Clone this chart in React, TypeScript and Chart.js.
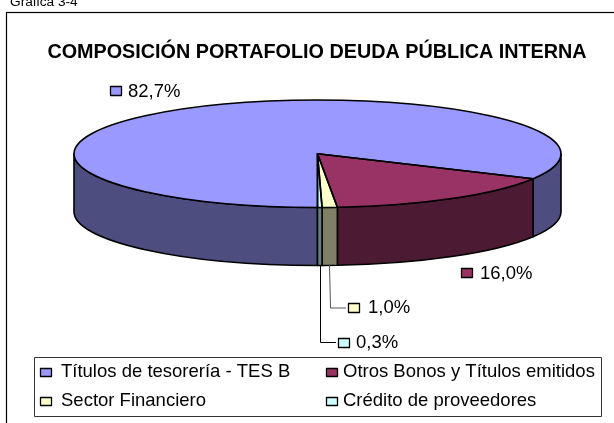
import React, { useEffect, useRef } from "react";
import { Chart, registerables } from "chart.js";

Chart.register(...registerables);

const categories = ["Títulos de tesorería - TES B", "Otros Bonos y Títulos emitidos", "Sector Financiero", "Crédito de proveedores"];
const values = [82.7, 16.0, 1.0, 0.3];
const valueLabels = ["82,7%", "16,0%", "1,0%", "0,3%"];
const topColors = ["#9999FF", "#993366", "#FFFFCC", "#CCFFFF"];
const wallColors = ["#4D4D80", "#4D1A33", "#808066", "#668080"];
const titleText = "COMPOSICIÓN PORTAFOLIO DEUDA PÚBLICA INTERNA";
const captionText = "Gráfica 3-4";

const FONT = '"Liberation Sans", Arial, sans-serif';
const CX = 317.5, CY = 153.75, RX = 243.5, RY = 53.75, DEPTH = 58;
const labelSpots = [
  { sx: 110, sy: 86, tx: 128, ty: 97 },
  { sx: 461, sy: 268, tx: 480, ty: 279 },
  { sx: 348, sy: 303, tx: 368, ty: 313 },
  { sx: 338, sy: 338, tx: 356, ty: 348 },
];
const leaders = [
  null,
  null,
  { color: "#555555", pts: [[329.5, 265], [330.5, 308], [346, 308]] },
  { color: "#000000", pts: [[320.5, 265], [320.5, 342.5], [336, 342.5]] },
];
const legendSpots = [
  { sx: 40, sy: 368, tx: 61, ty: 377 },
  { sx: 326, sy: 368, tx: 343, ty: 377 },
  { sx: 40, sy: 397, tx: 61, ty: 406 },
  { sx: 326, sy: 397, tx: 343, ty: 406 },
];

function swatch(ctx: CanvasRenderingContext2D, x: number, y: number, w: number, h: number, color: string) {
  ctx.fillStyle = color;
  ctx.fillRect(x + 0.5, y + 0.5, w, h);
  ctx.strokeStyle = "#000";
  ctx.lineWidth = 1.3;
  ctx.strokeRect(x + 0.5, y + 0.5, w, h);
}

function wall(ctx: CanvasRenderingContext2D, a: number, b: number, color: string) {
  ctx.beginPath();
  ctx.ellipse(CX, CY, RX, RY, 0, a, b, false);
  ctx.ellipse(CX, CY + DEPTH, RX, RY, 0, b, a, true);
  ctx.closePath();
  ctx.fillStyle = color;
  ctx.fill();
  ctx.strokeStyle = "#000";
  ctx.lineWidth = 1.6;
  ctx.lineJoin = "round";
  ctx.stroke();
}

const pie3d = {
  id: "pie3d",
  beforeDatasetsDraw(chart: any) {
    const ctx: CanvasRenderingContext2D = chart.ctx;
    const arcs = chart.getDatasetMeta(0).data;
    const TAU = Math.PI * 2;
    // Side walls: only the part of each slice facing the viewer (0..PI, also 2PI..3PI)
    arcs.forEach((arc: any, i: number) => {
      const { startAngle: s, endAngle: e } = arc.getProps(["startAngle", "endAngle"]);
      for (const [lo, hi] of [[0, Math.PI], [TAU, TAU + Math.PI]]) {
        const a = Math.max(s, lo), b = Math.min(e, hi);
        if (b > a) wall(ctx, a, b, wallColors[i]);
      }
    });
    const first = arcs[0];
    ctx.save();
    ctx.translate(CX, CY);
    ctx.scale(RX / first.outerRadius, RY / first.outerRadius);
    ctx.translate(-first.x, -first.y);
  },
  afterDatasetsDraw(chart: any) {
    const ctx: CanvasRenderingContext2D = chart.ctx;
    ctx.restore();
    const arcs = chart.getDatasetMeta(0).data;
    // Crisp outlines of the top face in screen space
    arcs.forEach((arc: any) => {
      const { startAngle: s, endAngle: e } = arc.getProps(["startAngle", "endAngle"]);
      ctx.beginPath();
      ctx.moveTo(CX, CY);
      ctx.ellipse(CX, CY, RX, RY, 0, s, e, false);
      ctx.closePath();
      ctx.strokeStyle = "#000";
      ctx.lineWidth = 1.6;
      ctx.lineJoin = "round";
      ctx.stroke();
    });

    ctx.save();
    // Value labels and leader lines
    ctx.font = `18.5px ${FONT}`;
    ctx.textAlign = "left";
    ctx.textBaseline = "alphabetic";
    leaders.forEach((l) => {
      if (!l) return;
      ctx.beginPath();
      l.pts.forEach(([x, y], j) => (j ? ctx.lineTo(x, y) : ctx.moveTo(x, y)));
      ctx.strokeStyle = l.color;
      ctx.lineWidth = 1;
      ctx.stroke();
    });
    valueLabels.forEach((t, i) => {
      const p = labelSpots[i];
      swatch(ctx, p.sx, p.sy, 11, 9, topColors[i]);
      ctx.fillStyle = "#000";
      ctx.fillText(t, p.tx, p.ty);
    });

    // Legend
    ctx.strokeStyle = "#333";
    ctx.lineWidth = 1;
    ctx.strokeRect(34.5, 357.5, 567, 59);
    categories.forEach((t, i) => {
      const p = legendSpots[i];
      swatch(ctx, p.sx, p.sy, 11, 8, topColors[i]);
      ctx.fillStyle = "#000";
      ctx.font = `18.5px ${FONT}`;
      ctx.fillText(t, p.tx, p.ty);
    });
    ctx.restore();
  },
  beforeDraw(chart: any) {
    const ctx: CanvasRenderingContext2D = chart.ctx;
    ctx.save();
    ctx.fillStyle = "#fff";
    ctx.fillRect(0, 0, chart.width, chart.height);
    ctx.strokeStyle = "#000";
    ctx.lineWidth = 1.2;
    ctx.strokeRect(6.5, 12.5, chart.width + 20, chart.height + 20);
    ctx.fillStyle = "#000";
    ctx.font = `13.7px ${FONT}`;
    ctx.textBaseline = "alphabetic";
    ctx.fillText(captionText, 10, 6);
    ctx.restore();
  },
};

export default function App() {
  const ref = useRef<HTMLCanvasElement>(null);
  useEffect(() => {
    document.body.style.margin = "0";
    const chart = new Chart(ref.current!, {
      type: "pie",
      data: {
        labels: categories,
        datasets: [{ data: values, backgroundColor: topColors, borderWidth: 0, clip: false } as any],
      },
      options: {
        animation: false,
        responsive: false,
        rotation: 180,
        radius: 190,
        layout: { padding: { left: 20, right: 0, top: 0, bottom: 0 } },
        plugins: {
          legend: { display: false },
          tooltip: { enabled: false },
          title: {
            display: true,
            text: titleText,
            color: "#000",
            font: { family: FONT, size: 19.8, weight: "bold" },
            padding: { top: 41, bottom: 4 },
          },
        },
      },
      plugins: [pie3d],
    } as any);
    return () => chart.destroy();
  }, []);
  return <canvas ref={ref} width={614} height={423} style={{ display: "block" }} />;
}
